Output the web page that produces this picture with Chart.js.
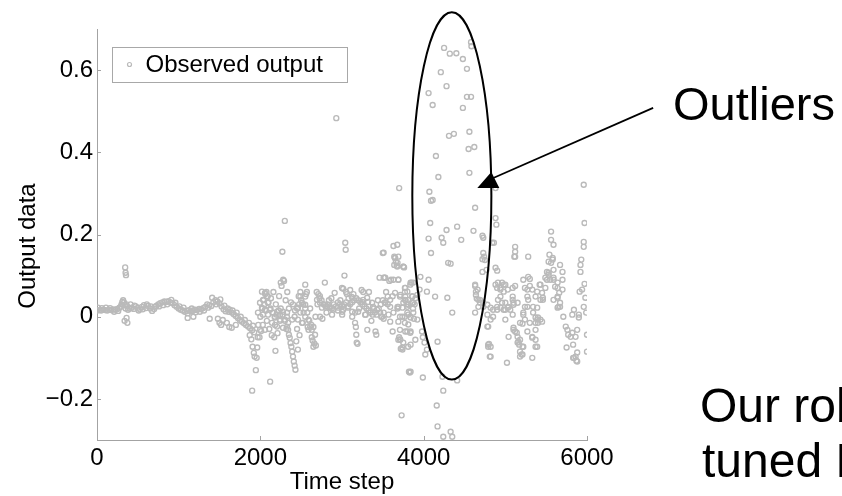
<!DOCTYPE html>
<html>
<head>
<meta charset="utf-8">
<script src="https://cdn.jsdelivr.net/npm/chart.js@4"></script>
<style>
  html, body { margin: 0; padding: 0; background: #fff; }
  #wrap { width: 842px; height: 496px; }
</style>
</head>
<body>
<div id="wrap"><canvas id="chart" width="842" height="496"></canvas></div>
<script>
// --- Data (time step, output) ---

// quiet start: thick band just above zero
const calmBand = [
  [0,0.015],[25,0.016],[50,0.015],[75,0.017],[100,0.016],[125,0.015],[150,0.017],[175,0.016],[200,0.018],[225,0.017],
  [250,0.019],[275,0.022],[300,0.03],[310,0.036],[320,0.04],[330,0.035],[340,0.028],[350,0.02],[360,0.03],[370,0.025],
  [380,0.017],[400,0.02],[425,0.022],[450,0.019],[475,0.025],[500,0.022],[525,0.018],[550,0.024],[575,0.028],[600,0.021],
  [625,0.026],[650,0.02],[675,0.014],[700,0.019],[725,0.026],[750,0.03],[775,0.033],[800,0.035],[825,0.037],[850,0.036],
  [875,0.038],[900,0.035],[925,0.033],[950,0.028],[975,0.024],[1000,0.02],[1025,0.017],[1050,0.015],[1075,0.012],[1100,0.014],
  [1125,0.016],[1150,0.013],[1175,0.015],[1200,0.017],[1225,0.016],[1250,0.019],[1275,0.018],[1300,0.021],[1325,0.024],[1350,0.03],
  [1375,0.028],[1400,0.026],[1425,0.035],[1450,0.04],[1475,0.037],[1500,0.032],[1525,0.025],[1550,0.018],[1575,0.013],[1600,0.02],
  [1625,0.017],[1650,0.01],[1675,0.006],[1700,0.002],[1725,-0.003],[1750,-0.008],[1775,-0.012],[1800,-0.016],[1825,-0.02],[1850,-0.024],
  [1875,-0.028],[1900,-0.033],[1925,-0.038],
  [12,0.022],[60,0.021],[110,0.022],[160,0.021],[210,0.012],[260,0.014],[290,0.024],[410,0.03],[460,0.027],[510,0.015],
  [560,0.018],[610,0.03],[660,0.025],[710,0.024],[760,0.025],[810,0.028],[860,0.03],[910,0.041],[960,0.034],[1010,0.025],
  [1060,0.022],[1110,0.008],[1160,0.02],[1210,0.011],[1260,0.012],[1310,0.015],[1360,0.022],[1410,0.046],[1460,0.03],[1510,0.042],
  [1560,0.027],[1610,0.012],[1660,0.015],[1710,0.01],[1760,0.0],[1810,-0.008],[1860,-0.015],[1910,-0.022]
];

const calmSpikes = [
  [345,0.12],[350,0.107],[355,0.101],[338,-0.01],[362,-0.003],[372,-0.015],[1110,-0.003],[1180,0.0],[1380,-0.005],[1480,-0.005],
  [1500,-0.015],[1520,-0.02],[1540,-0.008],[1590,-0.015],[1620,-0.025],[1650,-0.027],[1700,-0.02],
  [1870,-0.045],[1890,-0.055],[1905,-0.073],[1920,-0.088],[1930,-0.097],[1945,-0.13],[1900,-0.18],[1955,-0.1],[1962,-0.075],[1968,-0.05]
];

// middle stretch: band starts to wander
const driftBand = [
  [1975,-0.02],[2000,0.0],[2025,0.02],[2040,0.04],[2060,0.055],[2075,0.06],[2090,0.05],[2100,0.035],[2125,0.02],[2150,0.01],
  [2175,0.0],[2200,0.005],[2225,0.015],[2250,0.02],[2275,0.005],[2300,-0.01],[2325,0.0],[2350,0.02],[2375,0.035],[2400,0.03],
  [2425,0.015],[2450,0.02],[2475,0.03],[2500,0.04],[2525,0.03],[2550,0.02],[2575,0.01],[2600,-0.01],[2625,-0.02],[2650,-0.025],
  [2675,0.0],[2700,0.03],[2725,0.045],[2750,0.04],[2775,0.03],[2800,0.025],[2825,0.03],[2850,0.025],[2875,0.02],[2900,0.03],
  [2925,0.025],[2950,0.035],[2975,0.03],[3000,0.025],[3025,0.03],[3050,0.035],[3075,0.025],[3100,0.03],[3125,0.035],[3150,0.04],
  [3175,0.045],[3200,0.04],[3225,0.035],[3250,0.03],[3275,0.025],[3300,0.02],[3325,0.015],[3350,0.01],[3375,0.005],[3400,0.01],
  [3425,0.005],[3450,0.02],[3475,0.03],[3500,0.04],[3525,0.035],
  [2020,0.061],[2057,0.058],[2082,0.049],[2033,0.041],[1996,0.034],[2094,0.034],[2020,0.022],[2057,0.017],[2118,0.017],[1971,0.01],
  [2033,0.005],[2094,0.005],[2155,0.01],[2204,0.012],[2241,0.005],[2278,0.012],[2327,0.01],[2180,-0.002],[2241,-0.007],[2302,-0.007],
  [2143,-0.015],[2204,-0.024],[2278,-0.027],[2327,-0.024],[2057,-0.032],[1996,-0.032],
  [2460,0.022],[2510,0.034],[2550,0.029],[2490,0.01],[2550,0.0],[2590,-0.007],[2460,-0.007],[2520,-0.015],[2610,-0.024],[2630,-0.032],
  [2420,0.0],[2390,-0.007],[2340,-0.015],[2490,0.049],[2550,0.049],
  [2694,0.041],[2731,0.034],[2755,0.022],[2792,0.029],[2816,0.024],[2853,0.022],[2890,0.017],[2951,0.022],[3002,0.012],[3014,0.017],
  [3076,0.022],[3125,0.012],[3161,0.01],[3198,0.012],[3247,0.036],[3259,0.041],[3308,0.046],[3320,0.036],[3369,0.034],[3381,0.024],
  [3430,0.017],[3467,0.01],[3492,0.0],[2731,0.0],[2878,0.005],[3002,0.005],[3125,0.0],[3283,0.005],[3345,0.01]
];

const driftScatter = [
  [1990,-0.05],[2010,-0.035],[2030,-0.02],[2050,0.03],[2070,0.015],[2080,-0.01],[2110,-0.03],[2130,0.045],[2140,-0.045],[2160,0.06],
  [2180,-0.02],[2190,0.03],[2210,-0.04],[2230,0.05],[2240,-0.01],[2250,0.083],[2260,0.075],[2270,0.158],[2280,0.09],[2290,0.087],
  [2300,0.233],[2310,0.04],[2320,-0.03],[2330,0.06],[2340,-0.032],[2350,-0.044],[2360,-0.051],[2370,-0.064],[2380,-0.073],[2390,-0.085],
  [2400,-0.097],[2410,-0.109],[2420,-0.119],[2430,-0.129],[2440,-0.06],[2450,-0.03],[2460,-0.08],[2470,0.05],[2480,-0.045],[2490,0.06],
  [2510,-0.015],[2530,0.01],[2550,0.078],[2560,0.055],[2570,0.06],[2580,-0.025],[2590,-0.032],[2610,0.02],[2630,-0.05],[2640,-0.058],
  [2650,-0.073],[2660,-0.065],[2670,-0.044],[2680,-0.07],[2690,0.06],[2710,0.055],[2730,0.05],[2760,-0.005],[2790,0.083],[2810,0.01],
  [2840,0.04],[2870,0.045],[2910,0.058],[2930,0.483],[2950,0.015],[2980,0.04],[3000,0.07],[3015,0.068],[3030,0.1],[3040,0.18],
  [3045,0.163],[3050,0.06],[3060,0.055],[3080,0.045],[3100,0.065],[3120,0.048],[3140,0.055],[3160,-0.015],[3170,-0.025],[3175,-0.044],
  [3180,-0.063],[3190,-0.066],[3210,0.02],[3240,0.065],[3260,0.06],[3290,0.005],[3310,-0.032],[3330,0.06],[3360,-0.01],[3390,0.02],
  [3410,-0.036],[3420,-0.044],[3440,0.04],[3460,0.095],[3480,0.0],[3500,0.155],[3510,-0.005],[3520,0.095],[3540,0.06],[3560,0.03],
  [3580,0.087],[3600,0.09],[3620,0.05],[3630,0.172],[3640,0.146],[3650,0.143],[3660,0.134],[3670,0.124],[3680,0.02],[3700,-0.05],
  [3700,0.313],[3710,-0.055],[3720,-0.078],[3730,-0.24],[3740,-0.08],[3760,0.12],[3770,0.06],[3780,0.04],[3790,0.03],[3800,0.01],
  [3810,-0.073],[3820,-0.134],[3850,0.083],[3860,0.05],[3870,0.02],[3880,-0.005],[3890,0.03],[3900,0.045],
  [2120,-0.158],[2185,-0.083],[2170,-0.05],
  [3510,0.156],[3650,0.143],[3680,0.131],[3640,0.126],[3750,0.122],[3630,0.09],[3690,0.09],[3510,0.095],[3530,0.095],[3770,0.07],
  [3800,0.061],[3840,0.083],[3560,0.049],[3590,0.041],[3650,0.058],[3710,0.049],[3770,0.041],[3810,0.041],[3530,0.034],[3590,0.024],
  [3680,0.024],[3740,0.022],[3800,0.024],[3860,0.034],[3510,0.01],[3570,0.005],[3630,0.01],[3710,0.0],[3770,0.0],[3840,-0.002],
  [3590,-0.012],[3690,-0.012],[3770,-0.015],[3620,-0.036],[3710,-0.032],[3800,-0.036],[3690,-0.056],[3750,-0.063],[3840,-0.068],[3840,-0.036],
  [3677,0.175],[3690,0.146],[3677,0.122],[3751,0.122],[3690,0.09],[3775,0.07],[3836,0.078],[3873,0.083],[3714,0.053],[3775,0.049],
  [3861,0.049],[3922,0.053],[3690,0.024],[3751,0.034],[3812,0.029],[3873,0.034],[3739,0.0],[3812,0.005],[3873,0.01],[3922,-0.007],
  [3812,-0.019],[3775,-0.036],[3714,-0.056],[3739,-0.075],[3836,-0.039],[3898,-0.056]
];

// the outlier burst (inside the ellipse)
const burstPoints = [
  [4250,0.654],[4320,0.64],[4400,0.641],[4480,0.627],[4580,0.668],[4585,0.658],[4210,0.595],[4530,0.603],[4280,0.561],[4060,0.544],
  [4110,0.515],[4530,0.535],[4580,0.535],[4480,0.508],[4310,0.44],[4370,0.445],[4560,0.45],[4550,0.408],[4620,0.413],[4150,0.391],
  [4180,0.34],[4560,0.35],[4070,0.304],[4110,0.284],[4630,0.265],[4880,0.313],[4880,0.24],[4890,0.224],[4090,0.282],[4080,0.228],
  [4280,0.211],[4410,0.219],[4610,0.209],[4060,0.19],[4220,0.192],[4240,0.18],[4460,0.187],[4720,0.197],[4730,0.192],[4840,0.18],
  [4090,0.155],[4300,0.131],[4330,0.129],[4730,0.155],[4740,0.146],[4720,0.14],[4750,0.138],[4720,0.109],[4770,0.114],[4880,0.119],
  [4900,0.112],[3960,0.097],[4060,0.09],[3950,0.066],[4040,0.061],[4140,0.049],[4290,0.046],[4350,0.01],[4630,0.075],[4640,0.061],
  [4650,0.044],[4690,0.034],[4670,0.041],[4630,0.01],[4730,0.024],[4780,0.005],[4790,-0.024],[4800,-0.066],[4790,-0.073],[4810,-0.097],
  [4170,-0.061],[3990,-0.05],[4010,-0.063],[3980,-0.036],[4040,-0.08],[4020,-0.092],[3990,-0.148],[4230,-0.146],[4410,-0.155],[4240,-0.18],
  [4160,-0.216],[4170,-0.267],[4330,-0.28],[4350,-0.292],[4240,-0.292],[3840,-0.134],[3830,-0.136]
];

// noisy tail after the burst
const tailPoints = [
  [4630,0.078],[4660,0.066],[4640,0.053],[4690,0.041],[4670,0.024],[4730,0.034],[4780,0.029],[4820,0.022],[4850,0.017],[4900,0.024],
  [4910,0.041],[4960,0.034],[4980,0.017],[5030,0.022],[4880,0.078],[4910,0.083],[4980,0.078],[4940,0.07],[5030,0.066],[5090,0.049],
  [5120,0.075],[5100,0.034],[5060,0.017],[5090,0.005],[5000,-0.007],[4850,0.0],[4820,-0.007],[4780,-0.024],[4790,-0.068],[5120,0.146],
  [5120,0.17],[5120,0.158],[5280,0.146],[5100,-0.027],[5120,-0.036],[5150,-0.049],[5180,-0.056],[5220,-0.073],[5150,-0.063],[5220,0.005],
  [5270,0.024],[5280,0.041],[5280,0.097],[5300,0.075],[5270,0.066],[5330,0.066],[5390,0.061],[5370,0.049],[5430,0.078],[5510,0.09],
  [5460,0.041],[5390,0.022],[5400,-0.002],[5430,-0.007],[5370,-0.015],[5270,-0.036],[5330,-0.049],[5370,-0.056],[5390,-0.073],
  [5560,0.207],[5560,0.187],[5590,0.175],[5580,0.139],[5530,0.134],[5590,0.114],[5530,0.107],[5590,0.09],[5640,0.083],[5670,0.126],
  [5700,0.109],[5700,0.09],[5610,0.073],[5640,0.049],[5590,0.041],[5700,0.066],[5650,0.024],
  [5970,0.228],[5960,0.182],[5960,0.17],[5930,0.139],[5920,0.126],[5970,0.08],[5920,0.109],[5940,0.066],[5910,0.061],[5980,0.046],
  [5960,0.024],[5990,0.01],[5900,0.005],[6000,-0.044],[5840,0.017],[5820,0.005],[5760,-0.032],[5770,-0.044],[5820,-0.039],[5800,-0.049],
  [5740,-0.024],[5710,0.0],[5960,0.321],
  [5750,-0.075],[5880,-0.087],[5840,-0.1],[5870,-0.107],[5880,-0.109],[5860,-0.097],[6000,-0.085],[5830,-0.068],[5860,-0.049],[5880,-0.032],
  [5900,-0.002],[5040,-0.049],[5100,-0.032],[5140,-0.039],[5160,-0.061],[5170,-0.068],[5210,-0.073],[5180,-0.085],[5210,-0.092],[5180,-0.097],
  [5330,-0.051],[5370,-0.073],[5330,-0.1],[5200,-0.092],[5020,-0.112],[4820,-0.073],[4820,-0.097],[5450,-0.012],[5830,-0.1],
  [4960,0.083],[5000,0.078],[4900,0.07],[4940,0.066],[4980,0.061],[5090,0.07],[4940,0.049],[5000,0.034],[5040,0.024],[5090,0.041],
  [5100,0.029],[5000,0.017],[4940,0.022],[4900,0.017],[5150,0.034],
  [5220,0.09],[5240,0.07],[5270,0.049],[5240,0.024],[5220,0.01],[5240,-0.007],[5210,-0.017],[5180,-0.015],[5340,0.024],[5340,0.01],
  [5370,-0.002],[5300,-0.015],[5390,-0.007],[5400,-0.015],[5370,-0.032],
  [5640,0.07],[5660,0.058],[5640,0.046],[5670,0.034],[5640,0.022],[5670,0.024],[5420,0.078],[5490,0.07],[5450,0.058],[5460,0.046],
  [5430,0.041],[5510,0.109],[5530,0.102],[5490,0.095],[5550,0.09],[5590,0.095],[5540,0.151],[5580,0.143],[5560,0.131],[5300,0.092],
  [5110,0.146],[4860,0.18]
];

const xTickValues = [0, 2000, 4000, 6000];
const yTickValues = [-0.2, 0, 0.2, 0.4, 0.6];
const yTickLabels = ['\u22120.2', '0', '0.2', '0.4', '0.6'];

// annotation anchors, in data units
const outlierEllipse = { x: 4345, y: 0.294, rx: 484, ry: 0.447 };
const arrowHead = { x: 4828, y: 0.352 };
const arrowTail = { x: 6810, y: 0.508 };

// --- Styling ---
const FONT = '"Liberation Sans", Arial, Helvetica, sans-serif';
const AXIS_GRAY = '#a3a3a3';
const MARKER_GRAY = '#bababa';

const observed = [...calmBand, ...calmSpikes, ...driftBand, ...driftScatter, ...burstPoints, ...tailPoints]
  .map(([x, y]) => ({ x, y }));

// inward ticks, legend box, ellipse, arrow and side texts
const annotationLayer = {
  id: 'annotationLayer',
  afterDraw(chart) {
    const { ctx, chartArea: area, scales: { x, y } } = chart;
    ctx.save();

    // tick marks pointing into the axes
    ctx.strokeStyle = AXIS_GRAY;
    ctx.lineWidth = 1;
    ctx.beginPath();
    x.ticks.forEach(t => {
      const px = Math.round(x.getPixelForValue(t.value)) + 0.5;
      ctx.moveTo(px, area.bottom);
      ctx.lineTo(px, area.bottom - 4);
    });
    y.ticks.forEach(t => {
      const py = Math.round(y.getPixelForValue(t.value)) + 0.5;
      ctx.moveTo(area.left, py);
      ctx.lineTo(area.left + 4, py);
    });
    ctx.stroke();

    // legend
    const lx = area.left + 15.5, ly = area.top + 18.5, lw = 235, lh = 35;
    ctx.fillStyle = '#fff';
    ctx.fillRect(lx, ly, lw, lh);
    ctx.strokeStyle = '#a8a8a8';
    ctx.strokeRect(lx, ly, lw, lh);
    ctx.strokeStyle = MARKER_GRAY;
    ctx.lineWidth = 1.2;
    ctx.beginPath();
    ctx.arc(lx + 17, ly + 17, 2, 0, Math.PI * 2);
    ctx.stroke();
    ctx.fillStyle = '#000';
    ctx.font = '24px ' + FONT;
    ctx.textAlign = 'left';
    ctx.textBaseline = 'middle';
    ctx.fillText('Observed output', lx + 33, ly + 18);

    // axis titles
    ctx.textAlign = 'center';
    ctx.textBaseline = 'alphabetic';
    ctx.fillText('Time step', (area.left + area.right) / 2, 489);
    ctx.save();
    ctx.translate(35, 246);
    ctx.rotate(-Math.PI / 2);
    ctx.fillText('Output data', 0, 0);
    ctx.restore();

    // ellipse around the outliers
    const cx = x.getPixelForValue(outlierEllipse.x);
    const cy = y.getPixelForValue(outlierEllipse.y);
    const rx = x.getPixelForValue(outlierEllipse.x + outlierEllipse.rx) - cx;
    const ry = cy - y.getPixelForValue(outlierEllipse.y + outlierEllipse.ry);
    ctx.strokeStyle = '#000';
    ctx.lineWidth = 2;
    ctx.beginPath();
    ctx.ellipse(cx, cy, rx, ry, 0, 0, Math.PI * 2);
    ctx.stroke();

    // arrow
    const hx = x.getPixelForValue(arrowHead.x), hy = y.getPixelForValue(arrowHead.y);
    const tx = x.getPixelForValue(arrowTail.x), ty = y.getPixelForValue(arrowTail.y);
    ctx.lineWidth = 1.8;
    ctx.beginPath();
    ctx.moveTo(hx + 2, hy + 6);
    ctx.lineTo(tx, ty);
    ctx.stroke();
    ctx.fillStyle = '#000';
    ctx.beginPath();
    ctx.moveTo(hx, hy);
    ctx.lineTo(hx - 14, hy + 16);
    ctx.lineTo(hx + 8, hy + 16);
    ctx.closePath();
    ctx.fill();

    // callout texts
    ctx.textAlign = 'left';
    ctx.font = '47px ' + FONT;
    ctx.fillText('Outliers', 673, 120);
    ctx.font = '48px ' + FONT;
    ctx.fillText('Our robust', 700, 422);
    ctx.fillText('tuned Kalman', 702, 477);

    ctx.restore();
  }
};

new Chart(document.getElementById('chart'), {
  type: 'scatter',
  data: {
    datasets: [{
      label: 'Observed output',
      data: observed,
      pointStyle: 'circle',
      pointRadius: 2.5,
      pointBorderWidth: 1.35,
      borderColor: MARKER_GRAY,
      backgroundColor: 'rgba(0,0,0,0)',
      pointHoverRadius: 2.5
    }]
  },
  options: {
    responsive: false,
    animation: false,
    events: [],
    layout: { padding: { top: 29, right: 255, left: 0, bottom: 0 } },
    plugins: { legend: { display: false }, tooltip: { enabled: false } },
    scales: {
      x: {
        type: 'linear',
        min: 0,
        max: 6000,
        afterBuildTicks: scale => { scale.ticks = xTickValues.map(v => ({ value: v })); },
        afterFit: scale => { scale.height = 56; },
        grid: { display: false, drawTicks: false },
        border: { display: true, color: AXIS_GRAY, width: 1 },
        ticks: {
          padding: 4,
          maxRotation: 0,
          color: '#000',
          font: { family: FONT, size: 24 },
          callback: v => String(v)
        }
      },
      y: {
        type: 'linear',
        min: -0.3,
        max: 0.7,
        afterBuildTicks: scale => { scale.ticks = yTickValues.map(v => ({ value: v })); },
        afterFit: scale => { scale.width = 97; },
        grid: { display: false, drawTicks: false },
        border: { display: true, color: AXIS_GRAY, width: 1 },
        ticks: {
          padding: 4,
          color: '#000',
          font: { family: FONT, size: 24 },
          callback: (v, i) => yTickLabels[i]
        }
      }
    }
  },
  plugins: [annotationLayer]
});
</script>
</body>
</html>
